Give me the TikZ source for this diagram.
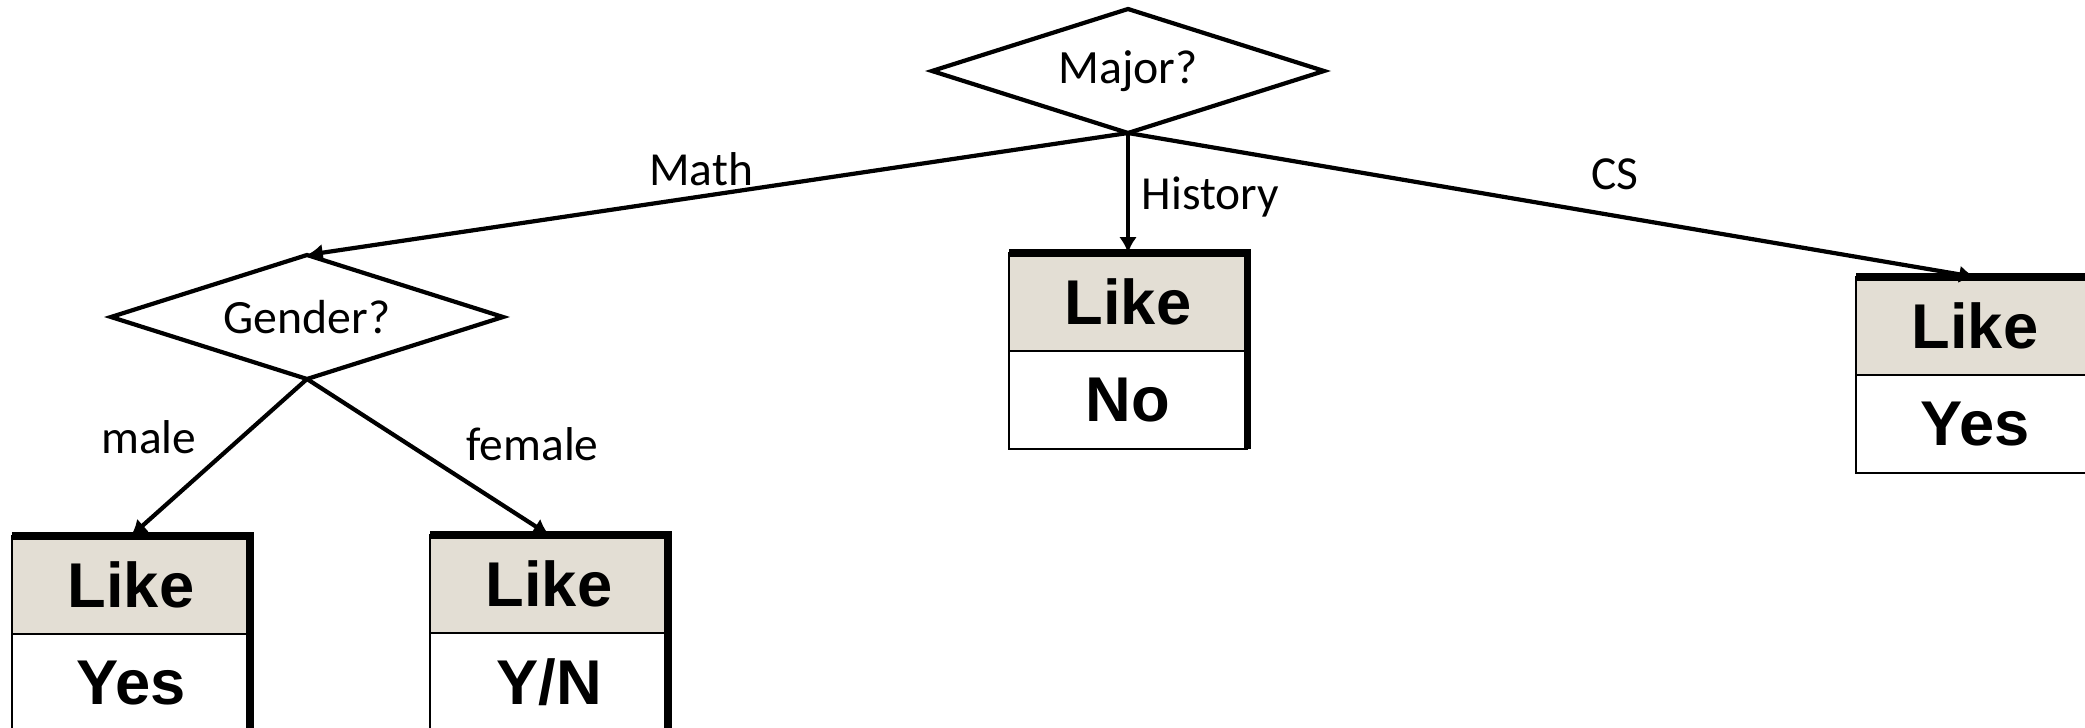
\documentclass[tikz,border=0pt]{standalone}
\usepackage{fontspec}
\setmainfont{Carlito}
\newfontfamily\likefont{Liberation Sans}
\usetikzlibrary{shapes.geometric,positioning,arrows.meta}
\definecolor{likefill}{HTML}{E3DED4}
\tikzset{
  question/.style={diamond, aspect=3.16, draw, line width=1.2pt, inner sep=0pt, outer sep=0pt,
    minimum width=3.92cm, minimum height=1.24cm, font=\fontsize{13.6}{15}\selectfont},
  likehead/.style={rectangle, draw, line width=0.8pt, fill=likefill, inner sep=0pt, outer sep=0pt,
    minimum width=2.38cm, minimum height=0.98cm, font=\likefont\bfseries\fontsize{18}{20}\selectfont},
  likeval/.style={likehead, fill=white},
  likeedge/.style={line width=2pt},
  branch/.style={font=\fontsize{13.5}{15}\selectfont},
}
\begin{document}
\begin{tikzpicture}[>={Latex[length=4.5pt,width=5pt]}]
  \useasboundingbox (0,0) rectangle (20.85,-7.28);
  \clip (0,0) rectangle (20.85,-7.28);
  \node[question] (major) at (11.28,-0.71) {Major?};
  \node[question] (gender) at (3.07,-3.17) {Gender?};
  \node[likehead] (noHead) at (11.28,-3.02) {Like};
  \node[likeval] (noVal) [below=0pt of noHead] {No};
  \node[likehead] (csHead) at (19.75,-3.26) {Like};
  \node[likeval] (csVal) [below=0pt of csHead] {Yes};
  \node[likehead] (yesHead) at (1.31,-5.85) {Like};
  \node[likeval] (yesVal) [below=0pt of yesHead] {Yes};
  \node[likehead] (ynHead) at (5.49,-5.84) {Like};
  \node[likeval] (ynVal) [below=0pt of ynHead] {Y/N};
  \path[->, line width=1.2pt]
    (major.south) edge node[branch, above, pos=0.52, yshift=-1pt] {Math} (gender.north)
        edge node[branch, right, pos=0.53] {History} (noHead.north)
        edge node[branch, above, pos=0.575, yshift=3.5pt] {CS} (csHead.north)
    (gender.south) edge node[branch, left, pos=0.37, xshift=-9pt] {male} (yesHead.north)
        edge node[branch, right, pos=0.42, xshift=12.5pt] {female} (ynHead.north);
  \foreach \b in {no,cs,yes,yn}
    \draw[likeedge] (\b Head.north west) -- (\b Head.north east) -- (\b Val.south east);
\end{tikzpicture}
\end{document}
